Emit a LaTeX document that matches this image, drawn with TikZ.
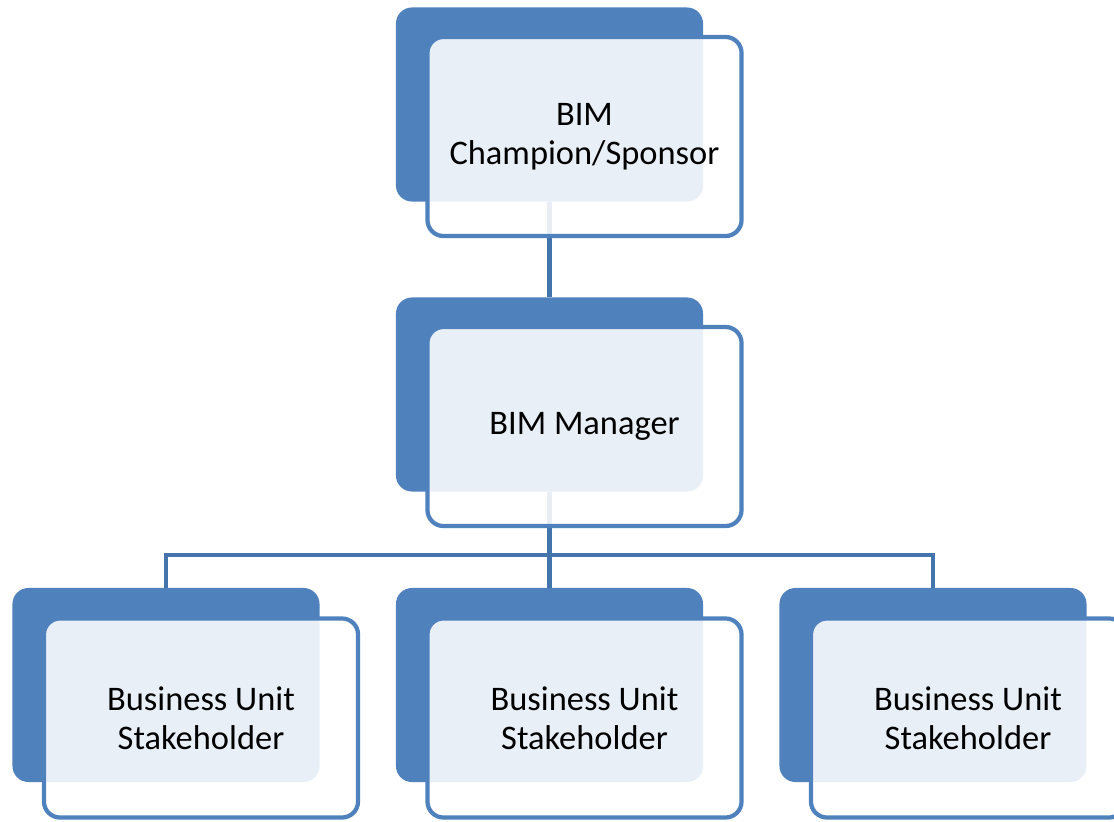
\documentclass[tikz,border=0pt]{standalone}
\usepackage{fontspec}
\setmainfont{Carlito}
\usetikzlibrary{
    positioning,
    calc
}
\definecolor{roleblue}{RGB}{79, 129, 189}
\definecolor{linkblue}{RGB}{68, 116, 172}

\begin{document}
\begin{tikzpicture}[
        x=0.025cm, y=-0.025cm,
        back/.style={rectangle, fill=roleblue, rounded corners=0.4cm, minimum width=7.675cm, minimum height=4.85cm, inner sep=0pt},
        front/.style={rectangle, draw=roleblue, line width=3pt, fill=white, fill opacity=0.88, text opacity=1, rounded corners=0.4cm, minimum width=7.85cm, minimum height=4.975cm, align=center, font=\fontsize{24.5}{27.5}\selectfont},
        link/.style={draw=linkblue, line width=3pt}
    ]
        \useasboundingbox (0,0) rectangle (1114,822);

        % Row 1: sponsor
        \node[back] (bk1) at (549.5,104.5) {};

        % Row 2: manager
        \node[back] (bk2) at (549.5,394.5) {};

        % Row 3: stakeholders
        \node[back] (bk3) at (166,685) {};
        \node[back] (bk4) at (549.5,685) {};
        \node[back] (bk5) at (933,685) {};

        % Connectors - below the front cards
        \draw[link] (bk1.south) -- (bk2.north);
        \draw[link] (bk2.south) -- (bk4.north);
        \coordinate (bus) at (549.5,555);
        \draw[link] (bus) -| (bk3.north);
        \draw[link] (bus) -| (bk5.north);

        % Front cards with labels
        \node[front] (sponsor) at ($(bk1)+(35,32)$) {BIM\\Champion/Sponsor};
        \node[front] (manager) at ($(bk2)+(35,32)$) {BIM Manager};
        \node[front] (unitA) at ($(bk3)+(35,33)$) {Business Unit\\Stakeholder};
        \node[front] (unitB) at ($(bk4)+(35,33)$) {Business Unit\\Stakeholder};
        \node[front] (unitC) at ($(bk5)+(35,33)$) {Business Unit\\Stakeholder};
    \end{tikzpicture}
\end{document}
